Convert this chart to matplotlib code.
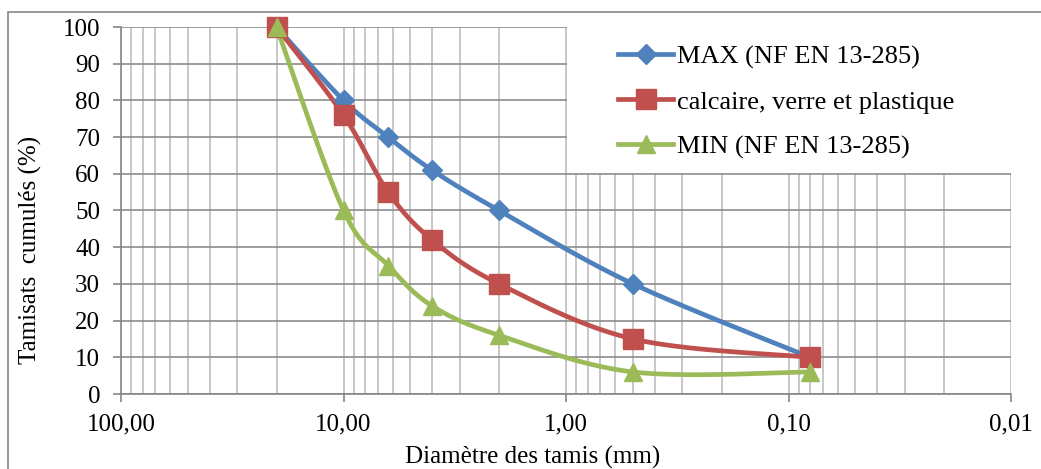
import numpy as np
import matplotlib
matplotlib.use('Agg')
import matplotlib.pyplot as plt
from matplotlib.ticker import FixedLocator, LogLocator, FuncFormatter, NullFormatter
from matplotlib.patches import Rectangle

# Sieve sizes (mm) and cumulative passing (%)
tamis = [20, 10, 6.3, 4, 2, 0.5, 0.08]
max_nf = [100, 80, 70, 61, 50, 30, 10]
calcaire = [100, 76, 55, 42, 30, 15, 10]
min_nf = [100, 50, 35, 24, 16, 6, 6]

labels = ['MAX (NF EN 13-285)', 'calcaire, verre et plastique', 'MIN (NF EN 13-285)']
colors = ['#4F81BD', '#C0504D', '#9BBB59']
markers = ['D', 's', '^']
msizes = [10.5, 14, 13.5]

plt.rcParams['font.family'] = ['Liberation Serif', 'DejaVu Serif']

W, H = 1041, 469
fig = plt.figure(figsize=(W / 100, H / 100), dpi=100)
ax = fig.add_axes([121 / W, 75 / H, 890 / W, 367 / H])

# outer chart frame
fig.patches.append(Rectangle((8 / W, -0.05), 1.1, (457 / H) + 0.05,
                             transform=fig.transFigure, fill=False,
                             edgecolor='#868686', linewidth=1.2))

ax.set_xscale('log')
ax.set_xlim(100, 0.01)
ax.set_ylim(0, 100)


def smooth(ax, xs, ys, n=40):
    # Excel-like smoothed line, bezier in display space
    pts = ax.transData.transform(np.column_stack([xs, ys]))
    out = []
    for i in range(len(pts) - 1):
        p0 = pts[i - 1] if i > 0 else pts[i]
        p1 = pts[i]
        p2 = pts[i + 1]
        p3 = pts[i + 2] if i + 2 < len(pts) else pts[i + 1]
        c1 = p1 + (p2 - p0) / 6
        c2 = p2 - (p3 - p1) / 6
        t = np.linspace(0, 1, n)[:, None]
        out.append((1 - t)**3 * p1 + 3 * (1 - t)**2 * t * c1 + 3 * (1 - t) * t**2 * c2 + t**3 * p2)
    return ax.transData.inverted().transform(np.vstack(out))


for ys, lab, c, m, ms in zip([max_nf, calcaire, min_nf], labels, colors, markers, msizes):
    cur = smooth(ax, tamis, ys)
    ax.plot(cur[:, 0], cur[:, 1], color=c, lw=3.4, zorder=4, solid_capstyle='round')
    ax.plot(tamis, ys, linestyle='none', marker=m, markersize=ms, color=c, zorder=5, clip_on=False)
    ax.plot([], [], color=c, lw=3.4, marker=m, markersize=ms, label=lab)

ax.xaxis.set_major_locator(FixedLocator([100, 10, 1, 0.1, 0.01]))
ax.xaxis.set_minor_locator(LogLocator(base=10, subs=np.arange(2, 10)))
ax.xaxis.set_major_formatter(FuncFormatter(lambda v, p: ('%.2f' % v).replace('.', ',')))
ax.xaxis.set_minor_formatter(NullFormatter())
ax.set_yticks(range(0, 101, 10))

ax.grid(True, which='major', axis='y', color='#8c8c8c', lw=1.2, zorder=1)
ax.grid(True, which='both', axis='x', color='#bdbdbd', lw=1.2, zorder=1)
ax.set_axisbelow(True)

for s in ['top', 'right']:
    ax.spines[s].set_visible(False)
for s in ['left', 'bottom']:
    ax.spines[s].set_color('#868686')
    ax.spines[s].set_linewidth(1.2)

ax.tick_params(axis='both', which='major', labelsize=18, color='#868686', length=6, width=1.2)
ax.tick_params(axis='y', pad=9)
ax.tick_params(axis='x', which='minor', length=0)
ax.tick_params(axis='x', pad=8)

# axis titles placed like in the original sheet
fig.text(533 / W, 1 - 457 / H, 'Diamètre des tamis (mm)', fontsize=18, ha='center', va='center')
fig.text(30 / W, 1 - 250 / H, 'Tamisats  cumulés (%)', fontsize=18, ha='center', va='center',
         rotation=90)

# white box behind the legend
ax.add_patch(Rectangle((446 / 890, 1 - 146 / 367), 444 / 890, 146 / 367, transform=ax.transAxes,
                       facecolor='white', edgecolor='none', zorder=2))
leg = ax.legend(loc='center left', bbox_to_anchor=((618 - 121) / 890, (394 - 102) / 367),
                frameon=False, fontsize=19, handlelength=2.1, handletextpad=0.15,
                labelspacing=0.8, borderpad=0, borderaxespad=0)
leg.set_zorder(6)

fig.savefig('out.png', dpi=100)
